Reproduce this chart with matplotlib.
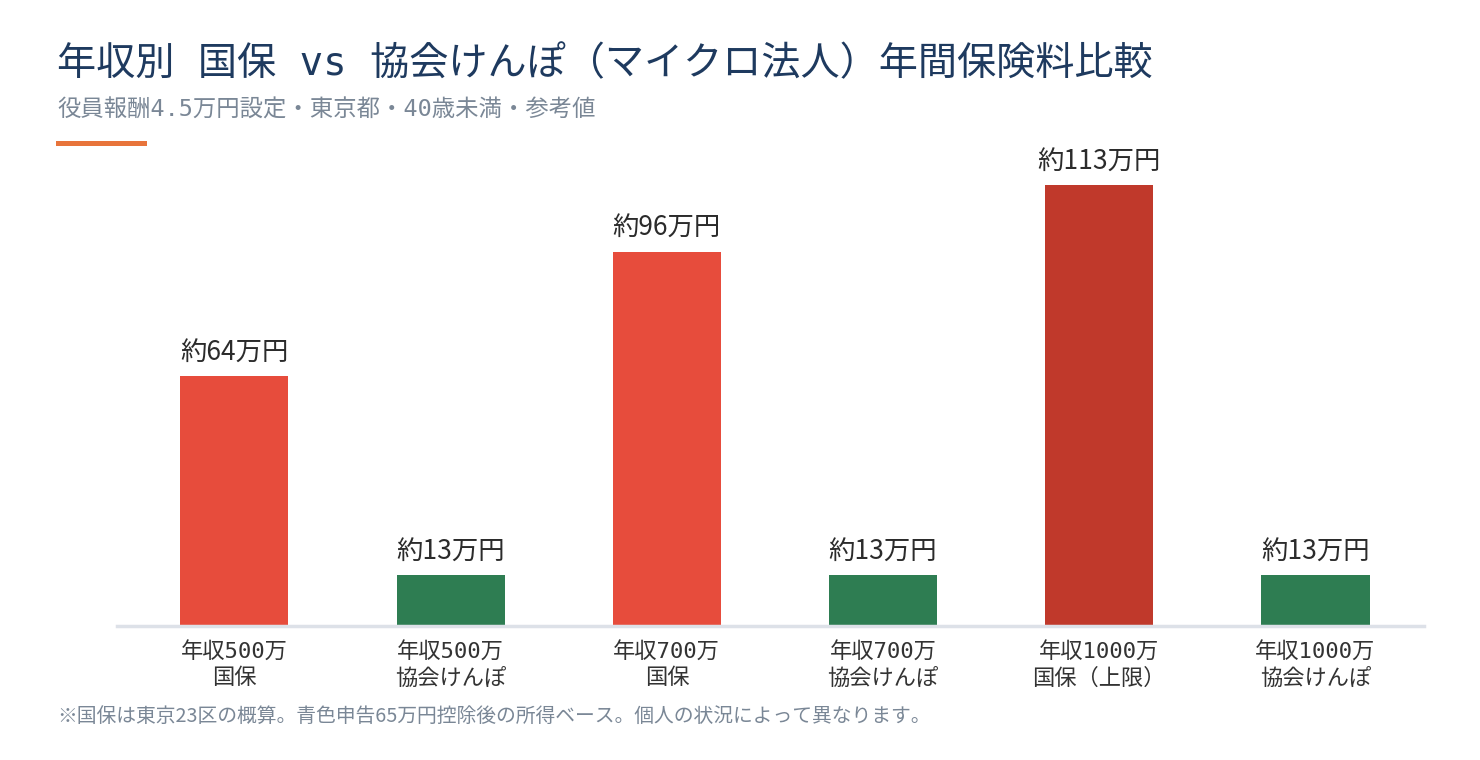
import matplotlib
matplotlib.use("Agg")
import matplotlib.pyplot as plt
from matplotlib.patches import Rectangle

plt.rcParams['font.family'] = ['Noto Sans CJK JP', 'DejaVu Sans']
MONO = ['DejaVu Sans Mono', 'Noto Sans CJK JP']

categories = ["年収500万\n国保", "年収500万\n協会けんぽ", "年収700万\n国保",
              "年収700万\n協会けんぽ", "年収1000万\n国保（上限）", "年収1000万\n協会けんぽ"]
values = [64, 13, 96, 13, 113, 13]
value_labels = ["約64万円", "約13万円", "約96万円", "約13万円", "約113万円", "約13万円"]
colors = ["#E74C3C", "#2E7D52", "#E74C3C", "#2E7D52", "#C0392B", "#2E7D52"]

title = "年収別 国保 vs 協会けんぽ（マイクロ法人）年間保険料比較"
subtitle = "役員報酬4.5万円設定・東京都・40歳未満・参考値"
footnote = "※国保は東京23区の概算。青色申告65万円控除後の所得ベース。個人の状況によって異なります。"

W, H = 1480, 760
fig = plt.figure(figsize=(W / 100, H / 100), dpi=100)
fig.patch.set_facecolor("white")

ax = fig.add_axes([117 / W, 134 / H, (1424 - 117) / W, 468 / H])
x = list(range(len(categories)))
ax.bar(x, values, width=0.5, color=colors, zorder=2)
ax.set_xlim(-0.543, 5.502)
ax.set_ylim(0, 120)

for xi, v, lab in zip(x, values, value_labels):
    ax.annotate(lab, (xi, v), xytext=(0, 16.5), textcoords="offset points",
                ha="center", va="center", fontsize=19, color="#2B2B2B",
                annotation_clip=False)

ax.set_xticks(x)
ax.set_xticklabels(categories, fontsize=16, color="#333333", linespacing=1.32,
                   family=MONO)
ax.tick_params(axis="x", length=0, pad=11)
ax.set_yticks([])
for s in ["top", "right", "left"]:
    ax.spines[s].set_visible(False)
ax.spines["bottom"].set_color("#DDE1E8")
ax.spines["bottom"].set_linewidth(2.5)
ax.set_facecolor("none")

fig.text(57 / W, 1 - 64 / H, title, fontsize=28.2, color="#1E3A5F", ha="left",
         va="center", family=MONO)
fig.text(57 / W, 1 - 110 / H, subtitle, fontsize=16.8, color="#7A8796", ha="left",
         va="center", family=MONO)
fig.patches.append(Rectangle((56 / W, 1 - 146 / H), 91 / W, 5 / H,
                             transform=fig.transFigure, facecolor="#E8743B",
                             edgecolor="none"))
fig.text(57 / W, 1 - 716 / H, footnote, fontsize=14.25, color="#7A8796", ha="left", va="center")

fig.savefig("out.png", dpi=100, facecolor="white")
